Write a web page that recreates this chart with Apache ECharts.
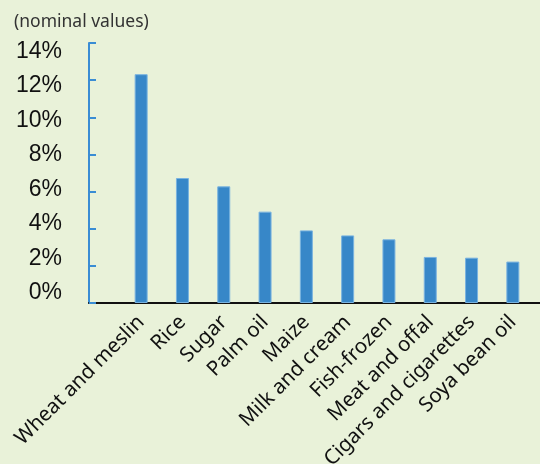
<!DOCTYPE html>
<html><head><meta charset="utf-8">
<script src="https://cdn.jsdelivr.net/npm/echarts@6/dist/echarts.min.js"></script>
<style>html,body{margin:0;padding:0;background:#E9F2D9;}#c{width:540px;height:464px;}</style>
</head><body><div id="c"></div>
<script>
const categories = ["Wheat and meslin","Rice","Sugar","Palm oil","Maize","Milk and cream","Fish-frozen","Meat and offal","Cigars and cigarettes","Soya bean oil"];
const values = [12.32, 6.73, 6.28, 4.92, 3.91, 3.64, 3.43, 2.48, 2.44, 2.23];
const yTicks = [0, 2, 4, 6, 8, 10, 12, 14];
const subtitle = "(nominal values)";

const chart = echarts.init(document.getElementById('c'));
chart.setOption({
  backgroundColor: '#E9F2D9',
  animation: false,
  title: { text: subtitle, left: 9, top: 8, textStyle: { fontFamily: 'Noto Sans', fontSize: 17.5, fontWeight: 'normal', color: '#333' } },
  grid: [
    { left: 120.5, right: 6.5, top: 43, bottom: 161, containLabel: false, outerBoundsMode: 'none' },
    { left: 89, right: 0, top: 43, bottom: 161, containLabel: false, outerBoundsMode: 'none' },
    { left: 89, right: 0, top: 51.5, bottom: 171, containLabel: false, outerBoundsMode: 'none' }
  ],
  xAxis: [
    { type: 'category', gridIndex: 0, data: categories,
      axisLine: { show: false }, axisTick: { show: false },
      axisLabel: { rotate: 45, interval: 0, margin: 16, color: '#111', fontFamily: 'Noto Sans', fontSize: 20.5 } },
    { type: 'value', gridIndex: 1, min: 0, max: 1,
      axisLine: { show: true, lineStyle: { color: '#111', width: 2 } },
      axisTick: { show: false }, axisLabel: { show: false }, splitLine: { show: false } },
    { type: 'value', gridIndex: 2, min: 0, max: 1, show: false }
  ],
  yAxis: [
    { type: 'value', gridIndex: 0, min: yTicks[0], max: yTicks[yTicks.length-1], interval: 2, offset: 31.5,
      axisLine: { show: true, lineStyle: { color: '#3a8dd4', width: 2 } },
      axisTick: { show: true, inside: true, length: 7, lineStyle: { color: '#3a8dd4', width: 2 } },
      splitLine: { show: false }, axisLabel: { show: false } },
    { type: 'value', gridIndex: 1, min: 0, max: 1, show: false },
    { type: 'value', gridIndex: 2, min: yTicks[0], max: yTicks[yTicks.length-1], interval: 2,
      axisLine: { show: false }, axisTick: { show: false }, splitLine: { show: false },
      axisLabel: { formatter: v => v + '%', margin: 27, color: '#111', fontFamily: 'Liberation Sans', fontSize: 23 } }
  ],
  series: [{
    type: 'bar', xAxisIndex: 0, yAxisIndex: 0, data: values, barWidth: 13,
    itemStyle: { color: '#3787C8', borderColor: '#79B3E0', borderWidth: 1 }
  }]
});
</script></body></html>
